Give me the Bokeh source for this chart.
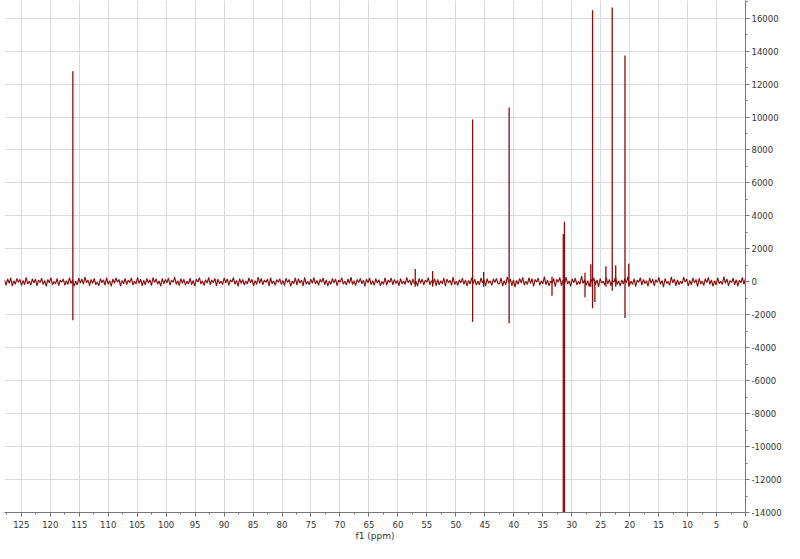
import numpy as np
from bokeh.plotting import figure
from bokeh.models import Range1d, SingleIntervalTicker, NumeralTickFormatter
from bokeh.embed import file_html
from bokeh.resources import INLINE

# Peaks (ppm, positive tip, negative tip)
peak_ppm = [116.1, 57.0, 54.0, 47.1, 45.2, 40.8, 33.4, 31.45, 31.25, 27.7, 26.7, 26.4, 26.0, 24.1, 23.0, 22.4, 20.8, 20.15]
peak_top = [12780, 780, 650, 9850, 600, 10570, 300, 2900, 3640, 550, 1070, 16480, 0, 950, 16650, 1000, 13730, 1100]
peak_bottom = [-2330, -300, -300, -2430, -300, -2510, -840, -14000, -14000, -940, -300, -1600, -1230, -300, -540, -300, -2200, -300]

# Baseline noise read as a dense band (about +/-300)
noise = [
    120, -210, 180, -90, 240, -260, 60, -150, 210, -30, 150, -230, 90, -180, 270, -120, 30, -200, 190, -70,
    160, -250, 110, -40, 220, -170, 80, -280, 140, -60, 250, -190, 20, -130, 200, -240, 100, -20, 170, -220,
    70, -160, 260, -110, 130, -270, 40, -190, 230, -80, 180, -140, 290, -50, 100, -230, 150, -100, 210, -180,
    -30, -240, 190, -60, 120, -210, 250, -150, 60, -280, 170, -90, 230, -20, 140, -260, 80, -120, 200, -170,
    110, -50, 240, -200, 30, -140, 270, -100, 160, -250, 90, -180, 210, -70, 130, -230, 260, -40, 180, -150,
    50, -270, 200, -120, 140, -60, 230, -210, 100, -30, 280, -160, 70, -240, 190, -90, 150, -200, 40, -130,
    220, -180, 90, -260, 170, -20, 250, -140, 60, -230, 130, -80, 270, -190, 110, -50, 210, -250, 160, -110,
    30, -170, 240, -70, 180, -220, 120, -10, 260, -150, 80, -280, 190, -100, 140, -200, 50, -130, 230, -60,
    150, -240, 70, -160, 290, -90, 200, -190, 110, -40, 170, -260, 250, -120, 60, -210, 130, -30, 180, -170,
    90, -230, 220, -50, 140, -280, 40, -110, 240, -200, 190, -70, 100, -250, 270, -140, 20, -180, 160, -90,
    260, -130, 80, -210, 150, -30, 230, -190, 120, -260, 50, -160, 200, -80, 180, -240, 100, -20, 250, -150,
    40, -200, 170, -100, 280, -170, 60, -230, 140, -50, 210, -120, 90, -270, 160, -60, 240, -180, 70, -220,
    190, -80, 130, -250, 20, -150, 260, -210, 110, -40, 230, -190, 150, -100, 80, -240, 200, -130, 50, -170,
    270, -60, 120, -220, 180, -140, 30, -260, 210, -90, 160, -200, 100, -30, 250, -180, 70, -110, 190, -240,
    140, -190, 60, -120, 230, -270, 170, -50, 90, -210, 280, -160, 40, -230, 130, -70, 220, -150, 110, -260,
    80, -140, 250, -100, 160, -200, 30, -180, 240, -60, 120, -250, 190, -90, 60, -220, 170, -40, 210, -130,
    -110, 230, -260, 70, -190, 300, -40, 160, -240, 120, -320, 80, -150, 210, -60, 270, -200, 30, -170, 250,
    -90, 190, -280, 140, -20, 230, -210, 60, -130, 310, -180, 100, -250, 40, -70, 200, -300, 150, -10, 260,
    -230, 90, -160, 280, -120, 50, -270, 180, -60, 220, -190, 20, -140, 340, -100, 130, -220, 70, -290, 170,
    -50, 240, -180, 110, -310, 200, -80, 30, -200, 260, -130, 150, -240, 90, -20, 290, -170, 60, -260, 120,
    -140, 210, -70, 320, -230, 40, -160, 190, -290, 100, -30, 250, -200, 140, -110, 60, -270, 230, -90, 180,
    -250, 130, -40, 270, -150, 80, -330, 200, -100, 20, -210, 300, -60, 160, -240, 110, -180, 40, -120, 280,
    -20, 170, -260, 90, -190, 240, -80, 140, -300, 210, -140, 50, -230, 190, -50, 270, -160, 120, -280, 60,
    -200, 250, -110, 30, -170, 310, -90, 180, -250, 70, -40, 220, -190, 130, -270, 100, -60, 260, -150, 200,
]
noise_ppm = np.linspace(127.9, 0.0, len(noise))

RED = "#8b0a0a"
FONT = "DejaVu Sans"

p = figure(width=784, height=543,
           x_range=Range1d(127.9, 0), y_range=Range1d(-14000, 17070),
           output_backend="svg", toolbar_location=None, y_axis_location="right",
           min_border=0, min_border_left=4)
p.outline_line_color = None
p.background_fill_color = "white"

p.line(noise_ppm, noise, line_color=RED, line_width=1.1)
p.segment(x0=peak_ppm, y0=peak_bottom, x1=peak_ppm, y1=peak_top, line_color=RED, line_width=1.3)

xt = SingleIntervalTicker(interval=5, num_minor_ticks=2)
yt = SingleIntervalTicker(interval=2000, num_minor_ticks=2)
p.xaxis.ticker = xt
p.yaxis.ticker = yt
p.xgrid.ticker = xt
p.ygrid.ticker = yt
p.yaxis.formatter = NumeralTickFormatter(format="0")
for g in (p.xgrid, p.ygrid):
    g.grid_line_color = "#dadada"
    g.grid_line_width = 1

for ax in (p.xaxis, p.yaxis):
    ax.axis_line_color = "#777777"
    ax.major_tick_line_color = "#777777"
    ax.minor_tick_line_color = "#777777"
    ax.major_tick_out = 4
    ax.major_tick_in = 0
    ax.minor_tick_out = 2
    ax.minor_tick_in = 0
    ax.major_label_text_font = FONT
    ax.major_label_text_font_size = "8.5px"
    ax.major_label_text_color = "#333333"

p.yaxis.major_label_standoff = 2
p.xaxis.major_label_standoff = 4
p.xaxis.axis_label = "f1 (ppm)"
p.xaxis.axis_label_text_font = FONT
p.xaxis.axis_label_text_font_size = "9px"
p.xaxis.axis_label_text_font_style = "normal"
p.xaxis.axis_label_text_color = "#333333"
p.xaxis.axis_label_standoff = 0

open("out.html", "w").write(file_html(p, INLINE))
